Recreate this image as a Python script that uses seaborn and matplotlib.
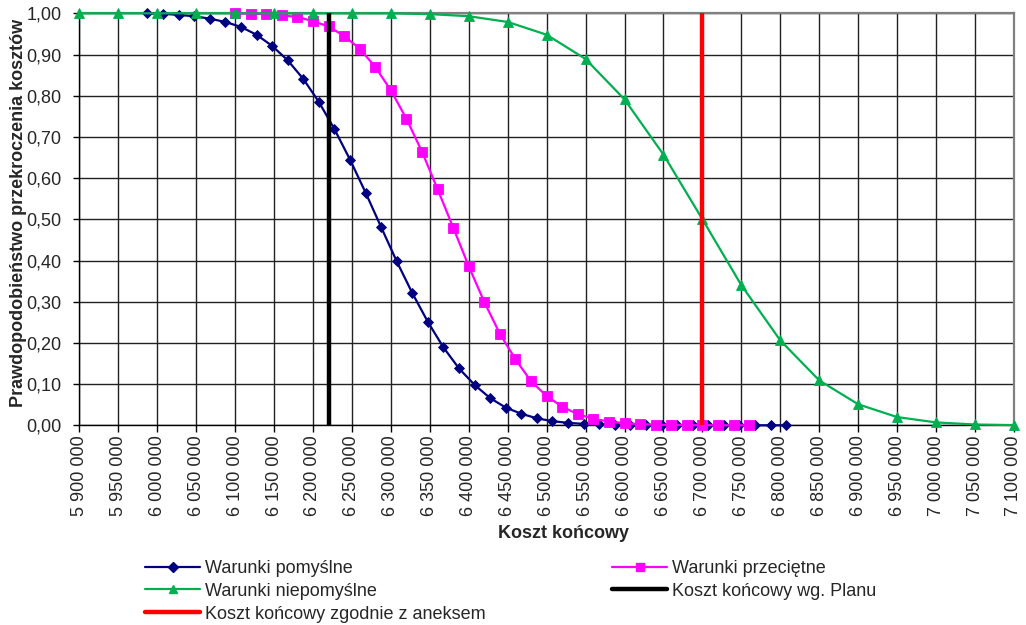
import matplotlib
matplotlib.use("Agg")
import matplotlib.pyplot as plt
from matplotlib.lines import Line2D
from matplotlib.ticker import FixedLocator, FuncFormatter
import pandas as pd
import seaborn as sns

# ---- data -------------------------------------------------------------
fav_cost = [5987500, 6007500, 6027500, 6047500, 6067500, 6087500, 6107500,
            6127500, 6147500, 6167500, 6187500, 6207500, 6227500, 6247500,
            6267500, 6287500, 6307500, 6327500, 6347500, 6367500, 6387500,
            6407500, 6427500, 6447500, 6467500, 6487500, 6507500, 6527500,
            6547500, 6567500, 6587500, 6607500, 6627500, 6647500, 6667500,
            6687500, 6707500, 6727500, 6747500, 6767500, 6787500, 6807500]
fav_prob = [1.000, 0.999, 0.996, 0.993, 0.987, 0.979, 0.967, 0.948, 0.921,
            0.886, 0.841, 0.785, 0.719, 0.645, 0.565, 0.481, 0.398, 0.321,
            0.251, 0.189, 0.138, 0.098, 0.066, 0.043, 0.028, 0.017, 0.010,
            0.006, 0.0035, 0.002, 0.001, 0.0006, 0.0003, 0.0002, 0.0001,
            0.0001, 0.0, 0.0, 0.0, 0.0, 0.0, 0.0]

avg_cost = [6100000, 6120000, 6140000, 6160000, 6180000, 6200000, 6220000,
            6240000, 6260000, 6280000, 6300000, 6320000, 6340000, 6360000,
            6380000, 6400000, 6420000, 6440000, 6460000, 6480000, 6500000,
            6520000, 6540000, 6560000, 6580000, 6600000, 6620000, 6640000,
            6660000, 6680000, 6700000, 6720000, 6740000, 6760000]
avg_prob = [1.000, 0.999, 0.998, 0.995, 0.991, 0.981, 0.968, 0.945, 0.914,
            0.870, 0.813, 0.744, 0.664, 0.573, 0.480, 0.386, 0.299, 0.222,
            0.160, 0.107, 0.071, 0.045, 0.027, 0.016, 0.009, 0.005, 0.003,
            0.0015, 0.001, 0.0005, 0.0003, 0.0002, 0.0001, 0.0]

unf_cost = [5900000, 5950000, 6000000, 6050000, 6100000, 6150000, 6200000,
            6250000, 6300000, 6350000, 6400000, 6450000, 6500000, 6550000,
            6600000, 6650000, 6700000, 6750000, 6800000, 6850000, 6900000,
            6950000, 7000000, 7050000, 7100000]
unf_prob = [1.000, 1.000, 1.000, 1.000, 1.000, 1.000, 1.000, 1.000, 1.000,
            0.998, 0.993, 0.979, 0.948, 0.889, 0.791, 0.657, 0.500, 0.340,
            0.206, 0.109, 0.051, 0.020, 0.007, 0.002, 0.0005]

plan_cost = 6220000
annex_cost = 6700000

x_ticks = [5900000, 5950000, 6000000, 6050000, 6100000, 6150000, 6200000,
           6250000, 6300000, 6350000, 6400000, 6450000, 6500000, 6550000,
           6600000, 6650000, 6700000, 6750000, 6800000, 6850000, 6900000,
           6950000, 7000000, 7050000, 7100000]
y_ticks = [0.0, 0.1, 0.2, 0.3, 0.4, 0.5, 0.6, 0.7, 0.8, 0.9, 1.0]

labels = {
    "fav": "Warunki pomyślne",
    "avg": "Warunki przeciętne",
    "unf": "Warunki niepomyślne",
    "plan": "Koszt końcowy wg. Planu",
    "annex": "Koszt końcowy zgodnie z aneksem",
}
colors = {"fav": "#000080", "avg": "#FF00FF", "unf": "#00B050",
          "plan": "#000000", "annex": "#FF0000"}

# ---- style ------------------------------------------------------------
sns.set_theme(style="white")
plt.rcParams["font.family"] = ["Liberation Sans", "DejaVu Sans"]
FS = 13

fig = plt.figure(figsize=(10.26, 6.25), dpi=100)
ax = fig.add_axes([0.0773, 0.3195, 0.9110, 0.6592])

ax.set_axisbelow(True)
ax.grid(True, color="#222222", linewidth=1.0)

series = [
    ("fav", fav_cost, fav_prob, "D", 5.4, 1.6),
    ("avg", avg_cost, avg_prob, "s", 7.2, 1.6),
    ("unf", unf_cost, unf_prob, "^", 7.2, 1.6),
]
handles = {}
for key, xs, ys, mk, ms, lw in series:
    df = pd.DataFrame({"cost": xs, "prob": ys})
    sns.lineplot(data=df, x="cost", y="prob", ax=ax, color=colors[key],
                 linewidth=lw, marker=mk, markersize=ms,
                 markeredgecolor=colors[key], markeredgewidth=0.6,
                 clip_on=False, zorder=3)
    handles[key] = Line2D([], [], color=colors[key], linewidth=lw,
                          marker=mk, markersize=ms * 0.85,
                          markeredgecolor=colors[key])

ax.axvline(plan_cost, color=colors["plan"], linewidth=3.2, zorder=4)
ax.axvline(annex_cost, color=colors["annex"], linewidth=3.2, zorder=4)
handles["plan"] = Line2D([], [], color=colors["plan"], linewidth=3.2)
handles["annex"] = Line2D([], [], color=colors["annex"], linewidth=3.2)

ax.set_xlim(x_ticks[0], x_ticks[-1])
ax.set_ylim(0, 1)
ax.xaxis.set_major_locator(FixedLocator(x_ticks))
ax.yaxis.set_major_locator(FixedLocator(y_ticks))
ax.xaxis.set_major_formatter(
    FuncFormatter(lambda v, p: f"{int(round(v)):,}".replace(",", " ")))
ax.yaxis.set_major_formatter(
    FuncFormatter(lambda v, p: f"{v:.2f}".replace(".", ",")))
ax.tick_params(axis="x", direction="out", length=5, width=1, color="black",
               labelsize=FS, labelrotation=90, pad=2, bottom=True)
ax.tick_params(axis="y", direction="out", length=4, width=1, color="black",
               labelsize=FS, pad=9, left=True)

for side in ("left", "bottom"):
    ax.spines[side].set_color("black")
    ax.spines[side].set_linewidth(1.0)
for side in ("top", "right"):
    ax.spines[side].set_color("#808080")
    ax.spines[side].set_linewidth(1.6)

ax.set_xlabel("Koszt końcowy", fontsize=FS, fontweight="bold")
ax.set_ylabel("Prawdopodobieństwo przekroczenia kosztów", fontsize=FS,
              fontweight="bold")
ax.xaxis.set_label_coords(0.5175, -0.242)
ax.yaxis.set_label_coords(-0.056, 0.515)

leg_kw = dict(frameon=False, fontsize=FS, handlelength=3.05,
              handletextpad=0.28, labelspacing=0.32, borderpad=0,
              borderaxespad=0, loc="upper left")
leg1 = fig.legend([handles[k] for k in ("fav", "unf", "annex")],
                  [labels[k] for k in ("fav", "unf", "annex")],
                  bbox_to_anchor=(145 / 1026, 1 - 560 / 625), **leg_kw)
leg2 = fig.legend([handles[k] for k in ("avg", "plan")],
                  [labels[k] for k in ("avg", "plan")],
                  bbox_to_anchor=(612 / 1026, 1 - 560 / 625), **leg_kw)

fig.savefig("out.png", dpi=100)
